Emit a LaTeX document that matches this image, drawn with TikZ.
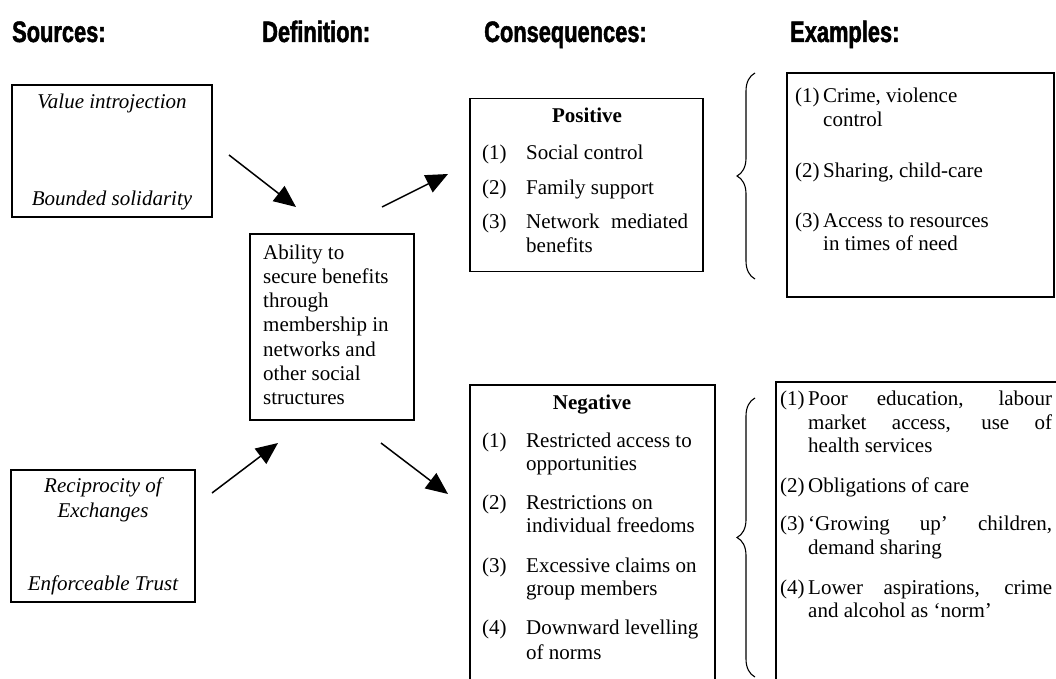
\documentclass[tikz,border=0pt]{standalone}
\usepackage{fontspec}
\setmainfont{Liberation Serif}
\newfontfamily\hdfont[FakeStretch=0.74,FakeBold=1.6]{Liberation Sans Bold}
\usetikzlibrary{arrows.meta,decorations.pathreplacing}
\newcommand{\jline}[2]{\makebox[#1][s]{#2}}
\begin{document}
\begin{tikzpicture}[x=1pt,y=-1pt,
  box/.style={draw, line width=1.3pt, inner sep=0pt},
  hd/.style={anchor=base west, inner sep=0pt, font=\hdfont\fontsize{29.5}{34}\selectfont},
  tl/.style={anchor=base west, inner sep=0pt, font=\fontsize{21}{24}\selectfont},
  tc/.style={anchor=base, inner sep=0pt, font=\fontsize{21}{24}\selectfont},
  ti/.style={anchor=base, inner sep=0pt, font=\fontsize{21}{24}\selectfont\itshape},
  tb/.style={anchor=base, inner sep=0pt, font=\fontsize{21}{24}\selectfont\bfseries},
  arr/.style={line width=1.5pt, -{Triangle[length=22pt,width=19pt]}},
  brc/.style={decorate, decoration={brace, amplitude=18pt}, line width=1.1pt}]
\useasboundingbox (0,0) rectangle (1056,679);
\clip (0,0) rectangle (1056,679);
% headers
\node[hd] (h1) at (12,42) {Sources:};
\node[hd] (h2) at (262,42) {Definition:};
\node[hd] (h3) at (484,42) {Consequences:};
\node[hd] (h4) at (790,42) {Examples:};
% source boxes
\node[box, minimum width=200pt, minimum height=132pt] (s1) at (112,151) {};
\node[ti] (s1a) at (112,109) {Value introjection};
\node[ti] (s1b) at (112,205) {Bounded solidarity};
\node[box, minimum width=184pt, minimum height=132pt] (s2) at (103,536) {};
\node[ti] (s2a) at (103,492) {Reciprocity of};
\node[ti] (s2b) at (103,517) {Exchanges};
\node[ti] (s2c) at (103,590) {Enforceable Trust};
% definition box
\node[box, minimum width=164pt, minimum height=186pt] (def) at (332,327) {};
\node[tl] (d1) at (263,259) {Ability to};
\node[tl] (d2) at (263,283.3) {secure benefits};
\node[tl] (d3) at (263,307.6) {through};
\node[tl] (d4) at (263,331.9) {membership in};
\node[tl] (d5) at (263,356.2) {networks and};
\node[tl] (d6) at (263,380.5) {other social};
\node[tl] (d7) at (263,404.8) {structures};
% positive box
\node[box, minimum width=233pt, minimum height=173pt] (pos) at (586.5,185) {};
\node[tb] (p0) at (587,123) {Positive};
\node[tl] (p1n) at (482,160) {(1)};
\node[tl] (p1) at (526,160) {Social control};
\node[tl] (p2n) at (482,194) {(2)};
\node[tl] (p2) at (526,194) {Family support};
\node[tl] (p3n) at (482,228) {(3)};
\node[tl] (p3) at (526,228) {\jline{162pt}{Network mediated}};
\node[tl] (p3b) at (526,252) {benefits};
% negative box
\node[box, minimum width=245pt, minimum height=335pt] (neg) at (592.5,552.5) {};
\node[tb] (n0) at (592,409) {Negative};
\node[tl] (n1n) at (482,447) {(1)};
\node[tl] (n1) at (526,447) {Restricted access to};
\node[tl] (n1b) at (526,470) {opportunities};
\node[tl] (n2n) at (482,509) {(2)};
\node[tl] (n2) at (526,509) {Restrictions on};
\node[tl] (n2b) at (526,532) {individual freedoms};
\node[tl] (n3n) at (482,572) {(3)};
\node[tl] (n3) at (526,572) {Excessive claims on};
\node[tl] (n3b) at (526,595) {group members};
\node[tl] (n4n) at (482,634) {(4)};
\node[tl] (n4) at (526,634) {Downward levelling};
\node[tl] (n4b) at (526,659) {of norms};
% example boxes
\node[box, minimum width=267pt, minimum height=224pt] (ex1) at (920.5,185) {};
\node[tl] (e1n) at (795,103) {(1)};
\node[tl] (e1) at (823,103) {Crime, violence};
\node[tl] (e1b) at (823,127) {control};
\node[tl] (e2n) at (795,177) {(2)};
\node[tl] (e2) at (823,177) {Sharing, child-care};
\node[tl] (e3n) at (795,227) {(3)};
\node[tl] (e3) at (823,227) {Access to resources};
\node[tl] (e3b) at (823,250) {in times of need};
\node[box, minimum width=304pt, minimum height=338pt] (ex2) at (928,551) {};
\node[tl] (f1n) at (780,405) {(1)};
\node[tl] (f1) at (808,405) {\jline{244pt}{Poor education, labour}};
\node[tl] (f1b) at (808,429) {\jline{244pt}{market access, use of}};
\node[tl] (f1c) at (808,452) {health services};
\node[tl] (f2n) at (780,492) {(2)};
\node[tl] (f2) at (808,492) {Obligations of care};
\node[tl] (f3n) at (780,530) {(3)};
\node[tl] (f3) at (808,530) {\jline{244pt}{`Growing up' children,}};
\node[tl] (f3b) at (808,554) {demand sharing};
\node[tl] (f4n) at (780,594) {(4)};
\node[tl] (f4) at (808,594) {\jline{244pt}{Lower aspirations, crime}};
\node[tl] (f4b) at (808,617) {and alcohol as `norm'};
% braces
\coordinate (b1b) at (755,279);
\coordinate (b1t) at (755,73);
\draw[brc] (b1b) -- (b1t);
\coordinate (b2b) at (755,677);
\coordinate (b2t) at (755,398);
\draw[brc] (b2b) -- (b2t);
% arrows
\coordinate (a1s) at (229,155);
\coordinate (a1e) at (296,207);
\coordinate (a2s) at (382,207);
\coordinate (a2e) at (448,174);
\coordinate (a3s) at (212,493);
\coordinate (a3e) at (278,443);
\coordinate (a4s) at (381,443);
\coordinate (a4e) at (448,494);
\draw[arr] (a1s) -- (a1e);
\draw[arr] (a2s) -- (a2e);
\draw[arr] (a3s) -- (a3e);
\draw[arr] (a4s) -- (a4e);
\end{tikzpicture}
\end{document}
